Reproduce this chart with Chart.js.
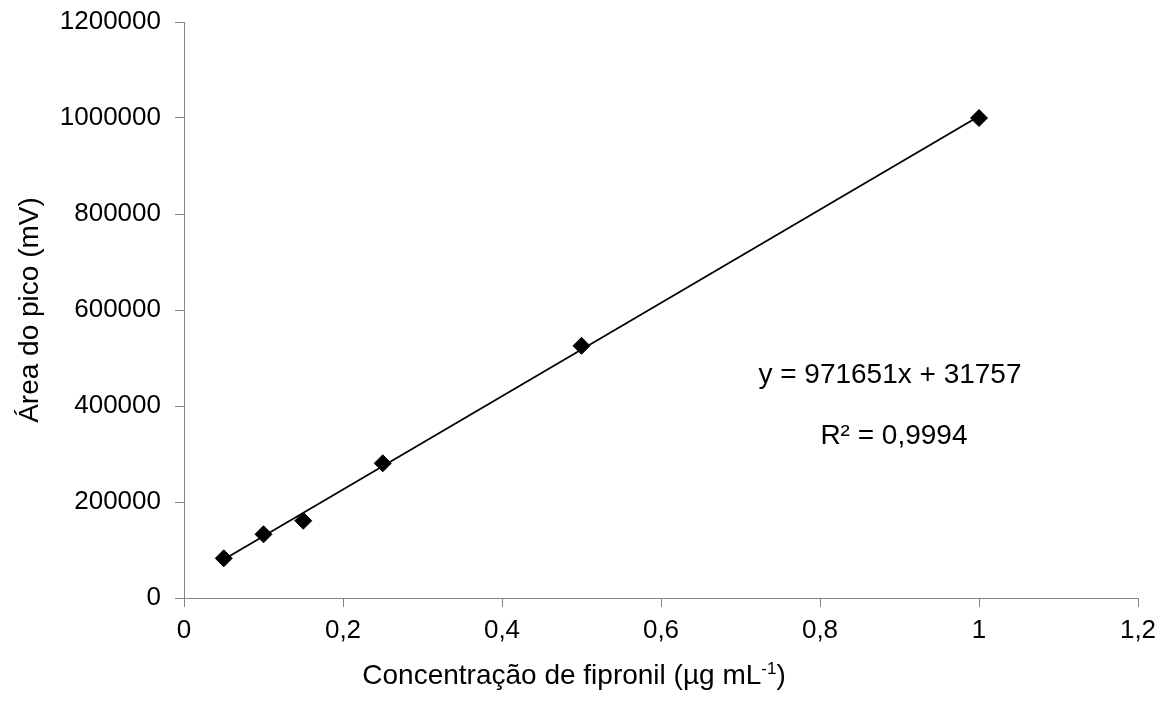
<!DOCTYPE html>
<html>
<head>
<meta charset="utf-8">
<script src="https://cdn.jsdelivr.net/npm/chart.js@4.4.1/dist/chart.umd.min.js"></script>
<style>
  html, body { margin: 0; padding: 0; background: #ffffff; }
  #wrap { width: 1166px; height: 702px; }
</style>
</head>
<body>
<div id="wrap"><canvas id="cal" width="1166" height="702"></canvas></div>
<script>
// Calibration points: fipronil concentration (µg/mL) vs peak area (mV)
const concentrations = [0.05, 0.10, 0.15, 0.25, 0.50, 1.00];
const peakAreas = [82700, 132700, 161000, 280600, 525400, 1000000];

// Fitted regression reported with the curve
const slope = 971651;
const intercept = 31757;
const equationText = 'y = 971651x + 31757';
const r2Text = 'R² = 0,9994';

// Axis ticks
const xTickValues = [0, 0.2, 0.4, 0.6, 0.8, 1.0, 1.2];
const xTickLabels = ['0', '0,2', '0,4', '0,6', '0,8', '1', '1,2'];
const yTickValues = [0, 200000, 400000, 600000, 800000, 1000000, 1200000];
const yTickLabels = ['0', '200000', '400000', '600000', '800000', '1000000', '1200000'];

const xTitleMain = 'Concentração de fipronil (µg mL';
const xTitleSup = '-1';
const xTitleEnd = ')';
const yTitle = 'Área do pico (mV)';

// Trend line endpoints over the measured range
const xFirst = concentrations[0];
const xLast = concentrations[concentrations.length - 1];
const trend = [
  { x: xFirst, y: slope * xFirst + intercept },
  { x: xLast, y: slope * xLast + intercept }
];

const FONT = '"Liberation Sans", Arial, sans-serif';
const AXIS_GREY = '#868686';

// Regression label anchors in data space
const eqAnchor = { x: 0.888, y: 448000 };
const r2Anchor = { x: 0.893, y: 321000 };

const annotations = {
  id: 'annotations',
  afterDraw(chart) {
    const ctx = chart.ctx;
    const xs = chart.scales.x, ys = chart.scales.y;
    ctx.save();
    ctx.fillStyle = '#000000';
    ctx.textBaseline = 'alphabetic';
    ctx.textAlign = 'center';
    ctx.font = '28px ' + FONT;
    ctx.fillText(equationText, xs.getPixelForValue(eqAnchor.x), ys.getPixelForValue(eqAnchor.y));
    ctx.fillText(r2Text, xs.getPixelForValue(r2Anchor.x), ys.getPixelForValue(r2Anchor.y));

    // x-axis title with superscript exponent
    ctx.textAlign = 'left';
    const mainFont = '28px ' + FONT;
    const supFont = '17px ' + FONT;
    ctx.font = mainFont;
    const wMain = ctx.measureText(xTitleMain).width;
    const wEnd = ctx.measureText(xTitleEnd).width;
    ctx.font = supFont;
    const wSup = ctx.measureText(xTitleSup).width;
    const total = wMain + wSup + wEnd;
    const cx = 574, base = 684;
    let x = cx - total / 2;
    ctx.font = mainFont;
    ctx.fillText(xTitleMain, x, base);
    x += wMain;
    ctx.font = supFont;
    ctx.fillText(xTitleSup, x, base - 10);
    x += wSup;
    ctx.font = mainFont;
    ctx.fillText(xTitleEnd, x, base);
    ctx.restore();
  }
};

new Chart(document.getElementById('cal'), {
  type: 'scatter',
  data: {
    datasets: [
      {
        label: 'Área do pico',
        data: concentrations.map((c, i) => ({ x: c, y: peakAreas[i] })),
        pointStyle: 'rectRot',
        pointRadius: 8.5,
        pointHoverRadius: 8.5,
        backgroundColor: '#000000',
        borderColor: '#000000',
        borderWidth: 1,
        order: 0
      },
      {
        label: 'Linear',
        type: 'line',
        data: trend,
        borderColor: '#000000',
        borderWidth: 1.75,
        pointRadius: 0,
        fill: false,
        order: 1
      }
    ]
  },
  options: {
    responsive: false,
    devicePixelRatio: 1,
    animation: false,
    layout: { padding: { top: 22, right: 28, bottom: 0, left: 0 } },
    plugins: {
      legend: { display: false },
      tooltip: { enabled: false }
    },
    scales: {
      x: {
        type: 'linear',
        min: 0,
        max: 1.2,
        afterBuildTicks(scale) { scale.ticks = xTickValues.map(v => ({ value: v })); },
        afterFit(scale) {
          scale.height = 104;
          scale.paddingLeft = 0;
          scale.paddingRight = 0;
        },
        ticks: {
          color: '#000000',
          font: { family: FONT, size: 26 },
          padding: 8,
          maxRotation: 0,
          callback: (v, i) => xTickLabels[i]
        },
        grid: { drawOnChartArea: false, drawTicks: true, tickLength: 9, color: AXIS_GREY, lineWidth: 1 },
        border: { display: true, color: AXIS_GREY, width: 1 },
        title: { display: false }
      },
      y: {
        type: 'linear',
        min: 0,
        max: 1200000,
        afterBuildTicks(scale) { scale.ticks = yTickValues.map(v => ({ value: v })); },
        afterFit(scale) {
          scale.width = 184;
          scale.paddingTop = 0;
          scale.paddingBottom = 0;
        },
        ticks: {
          color: '#000000',
          font: { family: FONT, size: 26 },
          padding: 14,
          callback: (v, i) => yTickLabels[i]
        },
        grid: { drawOnChartArea: false, drawTicks: true, tickLength: 9, color: AXIS_GREY, lineWidth: 1 },
        border: { display: true, color: AXIS_GREY, width: 1 },
        title: {
          display: true,
          text: yTitle,
          color: '#000000',
          font: { family: FONT, size: 28, lineHeight: 1.2 },
          padding: { top: 13, bottom: 0 }
        }
      }
    }
  },
  plugins: [annotations]
});
</script>
</body>
</html>
